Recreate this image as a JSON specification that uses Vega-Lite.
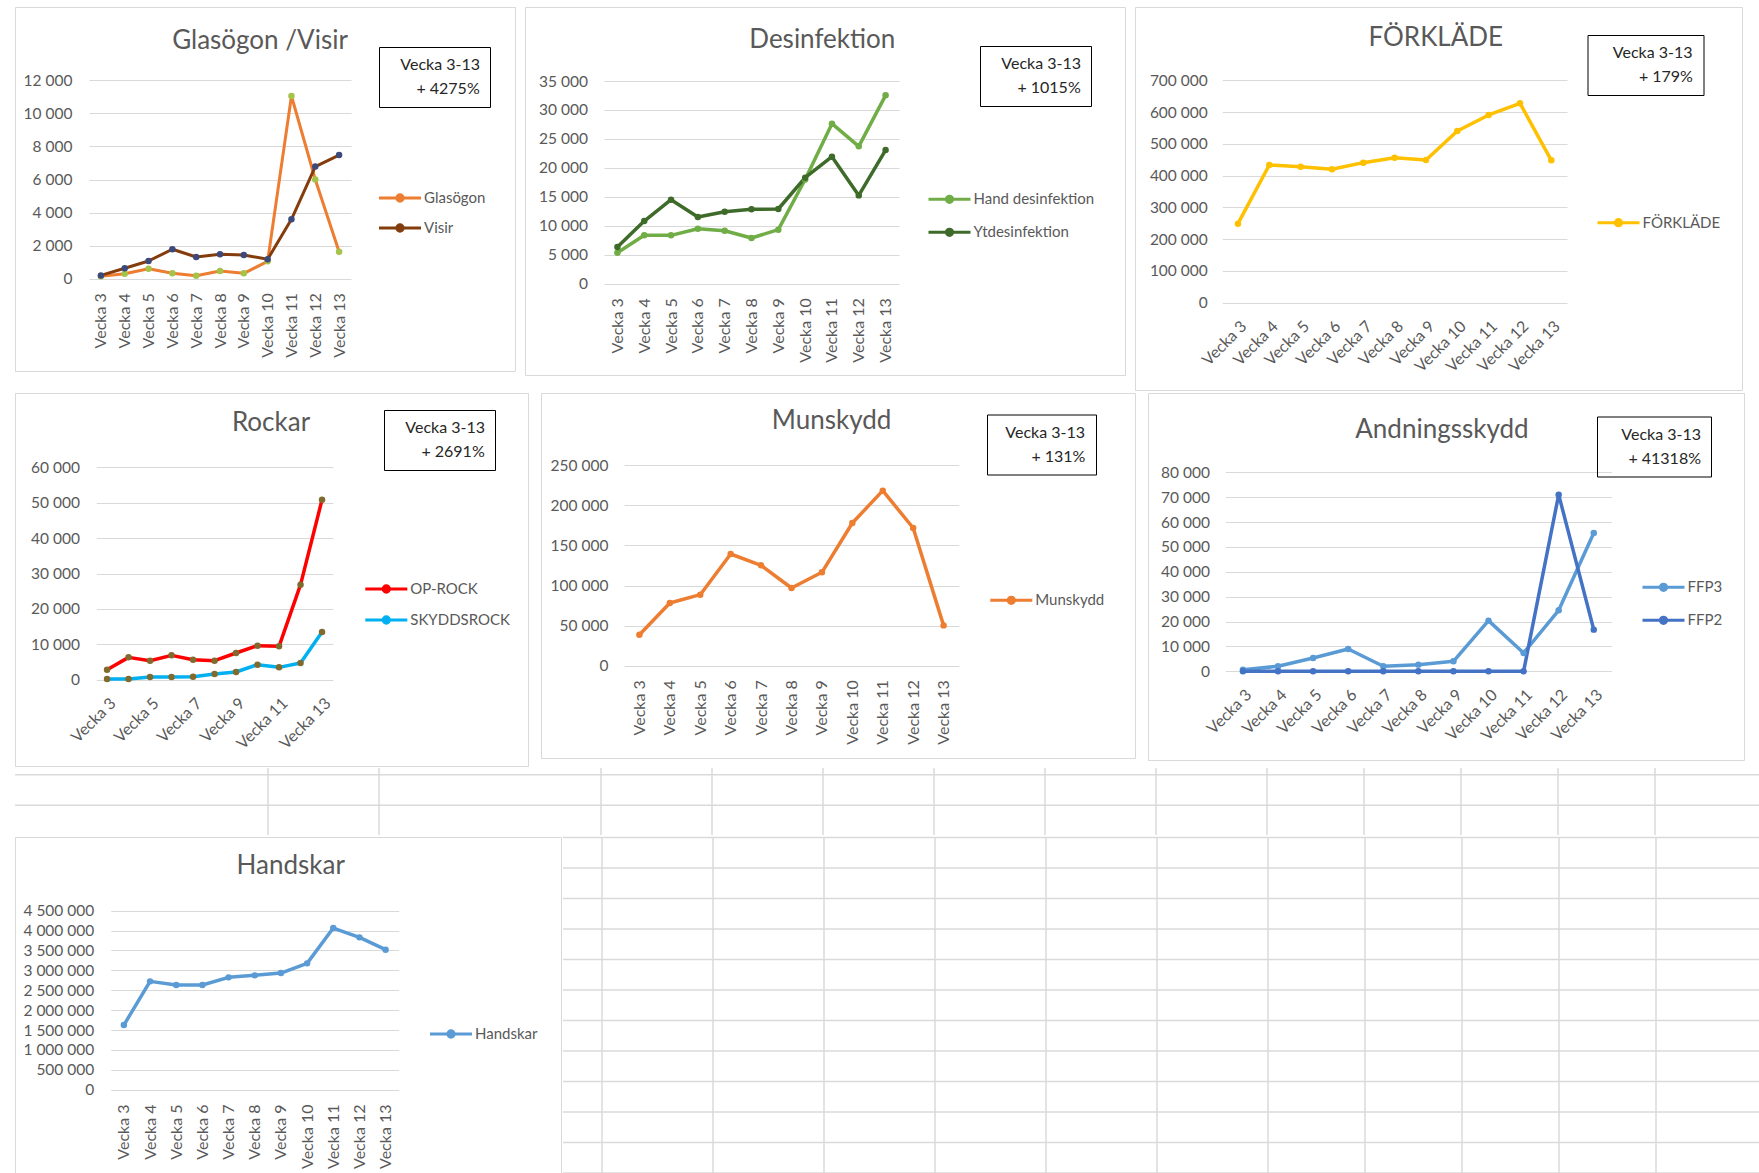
{
  "$schema": "https://vega.github.io/schema/vega-lite/v6.json",
  "background": "white",
  "padding": {"left": 14, "top": 6, "right": 0, "bottom": 0},
  "config": {
    "locale": {"number": {"decimal": ",", "thousands": " ", "grouping": [3], "currency": ["", ""]}},
    "font": "Lato",
    "view": {"stroke": "#d9d9d9", "strokeWidth": 1, "fill": "white"},
    "axis": {"domain": false, "ticks": false, "tickSize": 0, "labelColor": "#595959", "labelFont": "Lato", "gridColor": "#d9d9d9", "gridWidth": 1},
    "axisX": {"grid": false, "labelFontSize": 16, "labelOverlap": false},
    "axisY": {"grid": true, "labelFontSize": 15.5},
    "title": {"font": "Lato", "fontSize": 26, "fontWeight": "normal", "color": "#595959", "anchor": "middle", "frame": "group", "baseline": "alphabetic"},
    "legend": {"labelFont": "Lato", "titleFont": "Lato", "labelLimit": 400}
  },
  "spacing": 0,
  "resolve": {"scale": {"stroke": "independent", "fill": "independent", "shape": "independent"}},
  "vconcat": [
    {
      "spacing": 1,
      "resolve": {"scale": {"stroke": "independent", "fill": "independent", "shape": "independent"}},
      "vconcat": [
        {
          "spacing": 8,
          "resolve": {"scale": {"stroke": "independent", "fill": "independent", "shape": "independent"}},
          "hconcat": [
            {
              "width": 500, "height": 364,
              "title": {"text": "Glasögon /Visir", "offset": -46.5, "dx": -5},
              "data": {"values": [
                {"week": "Vecka 3", "series": "Glasögon", "value": 150},
                {"week": "Vecka 4", "series": "Glasögon", "value": 300},
                {"week": "Vecka 5", "series": "Glasögon", "value": 605},
                {"week": "Vecka 6", "series": "Glasögon", "value": 330},
                {"week": "Vecka 7", "series": "Glasögon", "value": 180},
                {"week": "Vecka 8", "series": "Glasögon", "value": 465},
                {"week": "Vecka 9", "series": "Glasögon", "value": 325},
                {"week": "Vecka 10", "series": "Glasögon", "value": 1050},
                {"week": "Vecka 11", "series": "Glasögon", "value": 11050},
                {"week": "Vecka 12", "series": "Glasögon", "value": 6000},
                {"week": "Vecka 13", "series": "Glasögon", "value": 1630},
                {"week": "Vecka 3", "series": "Visir", "value": 200},
                {"week": "Vecka 4", "series": "Visir", "value": 630},
                {"week": "Vecka 5", "series": "Visir", "value": 1070},
                {"week": "Vecka 6", "series": "Visir", "value": 1780},
                {"week": "Vecka 7", "series": "Visir", "value": 1310},
                {"week": "Vecka 8", "series": "Visir", "value": 1475},
                {"week": "Vecka 9", "series": "Visir", "value": 1435},
                {"week": "Vecka 10", "series": "Visir", "value": 1175},
                {"week": "Vecka 11", "series": "Visir", "value": 3590},
                {"week": "Vecka 12", "series": "Visir", "value": 6780},
                {"week": "Vecka 13", "series": "Visir", "value": 7480}
              ]},
              "encoding": {
                "x": {"field": "week", "type": "ordinal", "sort": null,
                  "scale": {"type": "point", "domain": ["Vecka 3","Vecka 4","Vecka 5","Vecka 6","Vecka 7","Vecka 8","Vecka 9","Vecka 10","Vecka 11","Vecka 12","Vecka 13"], "range": [74, 336], "padding": 0.5},
                  "axis": {"title": null, "offset": -92.3, "labelAngle": -90, "labelPadding": 14}},
                "y": {"field": "value", "type": "quantitative",
                  "scale": {"domain": [0, 12000], "range": [271.7, 73.3], "nice": false},
                  "axis": {"title": null, "offset": -74, "values": [0, 2000, 4000, 6000, 8000, 10000, 12000], "format": ",d", "labelPadding": 17}}
              },
              "layer": [
                {"mark": {"type": "line", "strokeWidth": 3, "strokeJoin": "round"},
                  "encoding": {"order": {"value": null},
                    "stroke": {"field": "series", "type": "nominal", "scale": {"domain": ["Glasögon", "Visir"], "range": ["#ED7D31", "#843C0C"]},
                      "legend": {"title": null, "orient": "none", "legendX": 362.5, "legendY": 179, "direction": "vertical", "symbolType": "M-1,0H3M0.7,0A0.3,0.3,0,1,1,1.3,0A0.3,0.3,0,1,1,0.7,0Z", "symbolSize": 441, "symbolStrokeWidth": 3, "labelOffset": 22.5, "rowPadding": 8, "labelFontSize": 15, "labelColor": "#595959", "padding": 0}}}},
                {"mark": {"type": "point", "filled": true, "size": 42, "opacity": 1},
                  "encoding": {
                    "fill": {"field": "series", "type": "nominal", "scale": {"domain": ["Glasögon", "Visir"], "range": ["#A5C249", "#3B4A7A"]},
                      "legend": {"title": null, "orient": "none", "legendX": 362.5, "legendY": 179, "direction": "vertical", "symbolType": "M-1,0H3M0.7,0A0.3,0.3,0,1,1,1.3,0A0.3,0.3,0,1,1,0.7,0Z", "symbolSize": 441, "symbolStrokeWidth": 3, "labelOffset": 22.5, "rowPadding": 8, "labelFontSize": 15, "labelColor": "#595959", "padding": 0}}}},
                {"data": {"values": [{"note": "+ 4275%"}]},
                  "mark": {"type": "point", "size": 0, "opacity": 0},
                  "encoding": {"x": null, "y": null, "shape": {"field": "note", "type": "nominal",
                    "legend": {"title": "Vecka 3-13", "orient": "none", "legendX": 364, "legendY": 40, "padding": 10, "strokeColor": "#000000", "titleFontSize": 16, "titleFontWeight": "normal", "titleColor": "#262626", "titleAnchor": "end", "titlePadding": 8, "labelFontSize": 16, "labelColor": "#262626", "symbolSize": 1, "symbolOpacity": 0, "symbolStrokeWidth": 0, "labelOffset": 11.4, "encode": {"legend": {"update": {"strokeWidth": {"value": 2}}}}}}}}
              ]
            },
            {
              "width": 600, "height": 368,
              "title": {"text": "Desinfektion", "offset": -46, "dx": -2.7},
              "data": {"values": [
                {"week": "Vecka 3", "series": "Hand desinfektion", "value": 5350},
                {"week": "Vecka 4", "series": "Hand desinfektion", "value": 8350},
                {"week": "Vecka 5", "series": "Hand desinfektion", "value": 8350},
                {"week": "Vecka 6", "series": "Hand desinfektion", "value": 9500},
                {"week": "Vecka 7", "series": "Hand desinfektion", "value": 9150},
                {"week": "Vecka 8", "series": "Hand desinfektion", "value": 7890},
                {"week": "Vecka 9", "series": "Hand desinfektion", "value": 9330},
                {"week": "Vecka 10", "series": "Hand desinfektion", "value": 18000},
                {"week": "Vecka 11", "series": "Hand desinfektion", "value": 27630},
                {"week": "Vecka 12", "series": "Hand desinfektion", "value": 23720},
                {"week": "Vecka 13", "series": "Hand desinfektion", "value": 32520},
                {"week": "Vecka 3", "series": "Ytdesinfektion", "value": 6330},
                {"week": "Vecka 4", "series": "Ytdesinfektion", "value": 10820},
                {"week": "Vecka 5", "series": "Ytdesinfektion", "value": 14510},
                {"week": "Vecka 6", "series": "Ytdesinfektion", "value": 11510},
                {"week": "Vecka 7", "series": "Ytdesinfektion", "value": 12430},
                {"week": "Vecka 8", "series": "Ytdesinfektion", "value": 12840},
                {"week": "Vecka 9", "series": "Ytdesinfektion", "value": 12900},
                {"week": "Vecka 10", "series": "Ytdesinfektion", "value": 18300},
                {"week": "Vecka 11", "series": "Ytdesinfektion", "value": 21930},
                {"week": "Vecka 12", "series": "Ytdesinfektion", "value": 15250},
                {"week": "Vecka 13", "series": "Ytdesinfektion", "value": 23080}
              ]},
              "encoding": {
                "x": {"field": "week", "type": "ordinal", "sort": null,
                  "scale": {"type": "point", "domain": ["Vecka 3","Vecka 4","Vecka 5","Vecka 6","Vecka 7","Vecka 8","Vecka 9","Vecka 10","Vecka 11","Vecka 12","Vecka 13"], "range": [79, 374], "padding": 0.5},
                  "axis": {"title": null, "offset": -91.3, "labelAngle": -90, "labelPadding": 14}},
                "y": {"field": "value", "type": "quantitative",
                  "scale": {"domain": [0, 35000], "range": [276.7, 74], "nice": false},
                  "axis": {"title": null, "offset": -79, "values": [0, 5000, 10000, 15000, 20000, 25000, 30000, 35000], "format": ",d", "labelPadding": 16.6}}
              },
              "layer": [
                {"mark": {"type": "line", "strokeWidth": 3.5, "strokeJoin": "round"},
                  "encoding": {"order": {"value": null},
                    "stroke": {"field": "series", "type": "nominal", "scale": {"domain": ["Hand desinfektion", "Ytdesinfektion"], "range": ["#70AD47", "#3F6B2A"]},
                      "legend": {"title": null, "orient": "none", "legendX": 402, "legendY": 180.3, "direction": "vertical", "symbolType": "M-1,0H3M0.7,0A0.3,0.3,0,1,1,1.3,0A0.3,0.3,0,1,1,0.7,0Z", "symbolSize": 441, "symbolStrokeWidth": 3, "labelOffset": 22.5, "rowPadding": 11, "labelFontSize": 15, "labelColor": "#595959", "padding": 0}}}},
                {"mark": {"type": "point", "filled": true, "size": 42, "opacity": 1},
                  "encoding": {
                    "fill": {"field": "series", "type": "nominal", "scale": {"domain": ["Hand desinfektion", "Ytdesinfektion"], "range": ["#70AD47", "#3F6B2A"]},
                      "legend": {"title": null, "orient": "none", "legendX": 402, "legendY": 180.3, "direction": "vertical", "symbolType": "M-1,0H3M0.7,0A0.3,0.3,0,1,1,1.3,0A0.3,0.3,0,1,1,0.7,0Z", "symbolSize": 441, "symbolStrokeWidth": 3, "labelOffset": 22.5, "rowPadding": 11, "labelFontSize": 15, "labelColor": "#595959", "padding": 0}}}},
                {"data": {"values": [{"note": "+ 1015%"}]},
                  "mark": {"type": "point", "size": 0, "opacity": 0},
                  "encoding": {"x": null, "y": null, "shape": {"field": "note", "type": "nominal",
                    "legend": {"title": "Vecka 3-13", "orient": "none", "legendX": 455, "legendY": 39, "padding": 10, "strokeColor": "#000000", "titleFontSize": 16, "titleFontWeight": "normal", "titleColor": "#262626", "titleAnchor": "end", "titlePadding": 8, "labelFontSize": 16, "labelColor": "#262626", "symbolSize": 1, "symbolOpacity": 0, "symbolStrokeWidth": 0, "labelOffset": 11.4, "encode": {"legend": {"update": {"strokeWidth": {"value": 2}}}}}}}}
              ]
            },
            {
              "width": 607, "height": 383,
              "title": {"text": "FÖRKLÄDE", "offset": -44, "dx": -2.7},
              "data": {"values": [
                {"week": "Vecka 3", "series": "FÖRKLÄDE", "value": 248700},
                {"week": "Vecka 4", "series": "FÖRKLÄDE", "value": 433400},
                {"week": "Vecka 5", "series": "FÖRKLÄDE", "value": 428200},
                {"week": "Vecka 6", "series": "FÖRKLÄDE", "value": 419800},
                {"week": "Vecka 7", "series": "FÖRKLÄDE", "value": 440800},
                {"week": "Vecka 8", "series": "FÖRKLÄDE", "value": 456500},
                {"week": "Vecka 9", "series": "FÖRKLÄDE", "value": 449200},
                {"week": "Vecka 10", "series": "FÖRKLÄDE", "value": 540500},
                {"week": "Vecka 11", "series": "FÖRKLÄDE", "value": 590900},
                {"week": "Vecka 12", "series": "FÖRKLÄDE", "value": 627600},
                {"week": "Vecka 13", "series": "FÖRKLÄDE", "value": 448100}
              ]},
              "encoding": {
                "x": {"field": "week", "type": "ordinal", "sort": null,
                  "scale": {"type": "point", "domain": ["Vecka 3","Vecka 4","Vecka 5","Vecka 6","Vecka 7","Vecka 8","Vecka 9","Vecka 10","Vecka 11","Vecka 12","Vecka 13"], "range": [87.3, 432], "padding": 0.5},
                  "axis": {"title": null, "offset": -87.3, "labelAngle": -45, "labelPadding": 15}},
                "y": {"field": "value", "type": "quantitative",
                  "scale": {"domain": [0, 700000], "range": [295.7, 73.3], "nice": false},
                  "axis": {"title": null, "offset": -87.3, "values": [0, 100000, 200000, 300000, 400000, 500000, 600000, 700000], "format": ",d", "labelPadding": 15}}
              },
              "layer": [
                {"mark": {"type": "line", "strokeWidth": 3.5, "strokeJoin": "round"},
                  "encoding": {"order": {"value": null},
                    "stroke": {"field": "series", "type": "nominal", "scale": {"domain": ["FÖRKLÄDE"], "range": ["#FFC000"]},
                      "legend": {"title": null, "orient": "none", "legendX": 461, "legendY": 203.7, "direction": "vertical", "symbolType": "M-1,0H3M0.7,0A0.3,0.3,0,1,1,1.3,0A0.3,0.3,0,1,1,0.7,0Z", "symbolSize": 441, "symbolStrokeWidth": 3, "labelOffset": 22.5, "labelFontSize": 15, "labelColor": "#595959", "padding": 0}}}},
                {"mark": {"type": "point", "filled": true, "size": 42, "opacity": 1},
                  "encoding": {
                    "fill": {"field": "series", "type": "nominal", "scale": {"domain": ["FÖRKLÄDE"], "range": ["#FFC000"]},
                      "legend": {"title": null, "orient": "none", "legendX": 461, "legendY": 203.7, "direction": "vertical", "symbolType": "M-1,0H3M0.7,0A0.3,0.3,0,1,1,1.3,0A0.3,0.3,0,1,1,0.7,0Z", "symbolSize": 441, "symbolStrokeWidth": 3, "labelOffset": 22.5, "labelFontSize": 15, "labelColor": "#595959", "padding": 0}}}},
                {"data": {"values": [{"note": "+ 179%"}]},
                  "mark": {"type": "point", "size": 0, "opacity": 0},
                  "encoding": {"x": null, "y": null, "shape": {"field": "note", "type": "nominal",
                    "legend": {"title": "Vecka 3-13", "orient": "none", "legendX": 452.5, "legendY": 28, "padding": 10, "strokeColor": "#000000", "titleFontSize": 16, "titleFontWeight": "normal", "titleColor": "#262626", "titleAnchor": "end", "titlePadding": 8, "labelFontSize": 16, "labelColor": "#262626", "symbolSize": 1, "symbolOpacity": 0, "symbolStrokeWidth": 0, "labelOffset": 25.4, "encode": {"legend": {"update": {"strokeWidth": {"value": 2}}}}}}}}
              ]
            }
          ]
        },
        {
          "spacing": 11,
          "resolve": {"scale": {"stroke": "independent", "fill": "independent", "shape": "independent"}},
          "hconcat": [
            {
              "width": 513, "height": 373,
              "title": {"text": "Rockar", "offset": -42.5, "dx": -0.5},
              "data": {"values": [
                {"week": "Vecka 3", "series": "OP-ROCK", "value": 2830},
                {"week": "Vecka 4", "series": "OP-ROCK", "value": 6310},
                {"week": "Vecka 5", "series": "OP-ROCK", "value": 5370},
                {"week": "Vecka 6", "series": "OP-ROCK", "value": 6880},
                {"week": "Vecka 7", "series": "OP-ROCK", "value": 5650},
                {"week": "Vecka 8", "series": "OP-ROCK", "value": 5370},
                {"week": "Vecka 9", "series": "OP-ROCK", "value": 7540},
                {"week": "Vecka 10", "series": "OP-ROCK", "value": 9610},
                {"week": "Vecka 11", "series": "OP-ROCK", "value": 9420},
                {"week": "Vecka 12", "series": "OP-ROCK", "value": 26840},
                {"week": "Vecka 13", "series": "OP-ROCK", "value": 50860},
                {"week": "Vecka 3", "series": "SKYDDSROCK", "value": 200},
                {"week": "Vecka 4", "series": "SKYDDSROCK", "value": 200},
                {"week": "Vecka 5", "series": "SKYDDSROCK", "value": 750},
                {"week": "Vecka 6", "series": "SKYDDSROCK", "value": 750},
                {"week": "Vecka 7", "series": "SKYDDSROCK", "value": 850},
                {"week": "Vecka 8", "series": "SKYDDSROCK", "value": 1600},
                {"week": "Vecka 9", "series": "SKYDDSROCK", "value": 2170},
                {"week": "Vecka 10", "series": "SKYDDSROCK", "value": 4240},
                {"week": "Vecka 11", "series": "SKYDDSROCK", "value": 3490},
                {"week": "Vecka 12", "series": "SKYDDSROCK", "value": 4710},
                {"week": "Vecka 13", "series": "SKYDDSROCK", "value": 13470}
              ]},
              "encoding": {
                "x": {"field": "week", "type": "ordinal", "sort": null,
                  "scale": {"type": "point", "domain": ["Vecka 3","Vecka 4","Vecka 5","Vecka 6","Vecka 7","Vecka 8","Vecka 9","Vecka 10","Vecka 11","Vecka 12","Vecka 13"], "range": [81.3, 317.8], "padding": 0.5},
                  "axis": {"title": null, "offset": -86.3, "labelAngle": -45, "labelPadding": 15, "values": ["Vecka 3","Vecka 5","Vecka 7","Vecka 9","Vecka 11","Vecka 13"]}},
                "y": {"field": "value", "type": "quantitative",
                  "scale": {"domain": [0, 60000], "range": [286.7, 74.3], "nice": false},
                  "axis": {"title": null, "offset": -81.3, "values": [0, 10000, 20000, 30000, 40000, 50000, 60000], "format": ",d", "labelPadding": 16.8}}
              },
              "layer": [
                {"mark": {"type": "line", "strokeWidth": 3.5, "strokeJoin": "round"},
                  "encoding": {"order": {"value": null},
                    "stroke": {"field": "series", "type": "nominal", "scale": {"domain": ["OP-ROCK", "SKYDDSROCK"], "range": ["#FF0000", "#00B0F0"]},
                      "legend": {"title": null, "orient": "none", "legendX": 348.8, "legendY": 184, "direction": "vertical", "symbolType": "M-1,0H3M0.7,0A0.3,0.3,0,1,1,1.3,0A0.3,0.3,0,1,1,0.7,0Z", "symbolSize": 441, "symbolStrokeWidth": 3, "labelOffset": 22.5, "rowPadding": 9, "labelFontSize": 15, "labelColor": "#595959", "padding": 0}}}},
                {"mark": {"type": "point", "filled": true, "size": 42, "opacity": 1},
                  "encoding": {
                    "fill": {"field": "series", "type": "nominal", "scale": {"domain": ["OP-ROCK", "SKYDDSROCK"], "range": ["#806A2E", "#806A2E"]},
                      "legend": {"title": null, "orient": "none", "legendX": 348.8, "legendY": 184, "direction": "vertical", "symbolType": "M-1,0H3M0.7,0A0.3,0.3,0,1,1,1.3,0A0.3,0.3,0,1,1,0.7,0Z", "symbolSize": 441, "symbolStrokeWidth": 3, "labelOffset": 22.5, "rowPadding": 9, "labelFontSize": 15, "labelColor": "#595959", "padding": 0}}}},
                {"data": {"values": [{"note": "+ 2691%"}]},
                  "mark": {"type": "point", "size": 0, "opacity": 0},
                  "encoding": {"x": null, "y": null, "shape": {"field": "note", "type": "nominal",
                    "legend": {"title": "Vecka 3-13", "orient": "none", "legendX": 369, "legendY": 17, "padding": 10, "strokeColor": "#000000", "titleFontSize": 16, "titleFontWeight": "normal", "titleColor": "#262626", "titleAnchor": "end", "titlePadding": 8, "labelFontSize": 16, "labelColor": "#262626", "symbolSize": 1, "symbolOpacity": 0, "symbolStrokeWidth": 0, "labelOffset": 11.4, "encode": {"legend": {"update": {"strokeWidth": {"value": 2}}}}}}}}
              ]
            },
            {
              "width": 594, "height": 365,
              "title": {"text": "Munskydd", "offset": -40.5, "dx": -6.4},
              "data": {"values": [
                {"week": "Vecka 3", "series": "Munskydd", "value": 38690},
                {"week": "Vecka 4", "series": "Munskydd", "value": 78200},
                {"week": "Vecka 5", "series": "Munskydd", "value": 88600},
                {"week": "Vecka 6", "series": "Munskydd", "value": 139350},
                {"week": "Vecka 7", "series": "Munskydd", "value": 125200},
                {"week": "Vecka 8", "series": "Munskydd", "value": 96900},
                {"week": "Vecka 9", "series": "Munskydd", "value": 116500},
                {"week": "Vecka 10", "series": "Munskydd", "value": 178000},
                {"week": "Vecka 11", "series": "Munskydd", "value": 218400},
                {"week": "Vecka 12", "series": "Munskydd", "value": 171800},
                {"week": "Vecka 13", "series": "Munskydd", "value": 50300}
              ]},
              "encoding": {
                "x": {"field": "week", "type": "ordinal", "sort": null,
                  "scale": {"type": "point", "domain": ["Vecka 3","Vecka 4","Vecka 5","Vecka 6","Vecka 7","Vecka 8","Vecka 9","Vecka 10","Vecka 11","Vecka 12","Vecka 13"], "range": [83.2, 417.8], "padding": 0.5},
                  "axis": {"title": null, "offset": -92.3, "labelAngle": -90, "labelPadding": 14}},
                "y": {"field": "value", "type": "quantitative",
                  "scale": {"domain": [0, 250000], "range": [272.7, 72.3], "nice": false},
                  "axis": {"title": null, "offset": -83.2, "values": [0, 50000, 100000, 150000, 200000, 250000], "format": ",d", "labelPadding": 16.3}}
              },
              "layer": [
                {"mark": {"type": "line", "strokeWidth": 3.5, "strokeJoin": "round"},
                  "encoding": {"order": {"value": null},
                    "stroke": {"field": "series", "type": "nominal", "scale": {"domain": ["Munskydd"], "range": ["#ED7D31"]},
                      "legend": {"title": null, "orient": "none", "legendX": 447.8, "legendY": 195.3, "direction": "vertical", "symbolType": "M-1,0H3M0.7,0A0.3,0.3,0,1,1,1.3,0A0.3,0.3,0,1,1,0.7,0Z", "symbolSize": 441, "symbolStrokeWidth": 3, "labelOffset": 22.5, "labelFontSize": 15, "labelColor": "#595959", "padding": 0}}}},
                {"mark": {"type": "point", "filled": true, "size": 42, "opacity": 1},
                  "encoding": {
                    "fill": {"field": "series", "type": "nominal", "scale": {"domain": ["Munskydd"], "range": ["#ED7D31"]},
                      "legend": {"title": null, "orient": "none", "legendX": 447.8, "legendY": 195.3, "direction": "vertical", "symbolType": "M-1,0H3M0.7,0A0.3,0.3,0,1,1,1.3,0A0.3,0.3,0,1,1,0.7,0Z", "symbolSize": 441, "symbolStrokeWidth": 3, "labelOffset": 22.5, "labelFontSize": 15, "labelColor": "#595959", "padding": 0}}}},
                {"data": {"values": [{"note": "+ 131%"}]},
                  "mark": {"type": "point", "size": 0, "opacity": 0},
                  "encoding": {"x": null, "y": null, "shape": {"field": "note", "type": "nominal",
                    "legend": {"title": "Vecka 3-13", "orient": "none", "legendX": 446, "legendY": 21.5, "padding": 10, "strokeColor": "#000000", "titleFontSize": 16, "titleFontWeight": "normal", "titleColor": "#262626", "titleAnchor": "end", "titlePadding": 8, "labelFontSize": 16, "labelColor": "#262626", "symbolSize": 1, "symbolOpacity": 0, "symbolStrokeWidth": 0, "labelOffset": 18.4, "encode": {"legend": {"update": {"strokeWidth": {"value": 2}}}}}}}}
              ]
            },
            {
              "width": 596, "height": 367,
              "title": {"text": "Andningsskydd", "offset": -50, "dx": -4.1},
              "data": {"values": [
                {"week": "Vecka 3", "series": "FFP3", "value": 670},
                {"week": "Vecka 4", "series": "FFP3", "value": 2010},
                {"week": "Vecka 5", "series": "FFP3", "value": 5360},
                {"week": "Vecka 6", "series": "FFP3", "value": 8980},
                {"week": "Vecka 7", "series": "FFP3", "value": 2010},
                {"week": "Vecka 8", "series": "FFP3", "value": 2680},
                {"week": "Vecka 9", "series": "FFP3", "value": 4020},
                {"week": "Vecka 10", "series": "FFP3", "value": 20370},
                {"week": "Vecka 11", "series": "FFP3", "value": 7370},
                {"week": "Vecka 12", "series": "FFP3", "value": 24520},
                {"week": "Vecka 13", "series": "FFP3", "value": 55610},
                {"week": "Vecka 3", "series": "FFP2", "value": 0},
                {"week": "Vecka 4", "series": "FFP2", "value": 0},
                {"week": "Vecka 5", "series": "FFP2", "value": 0},
                {"week": "Vecka 6", "series": "FFP2", "value": 0},
                {"week": "Vecka 7", "series": "FFP2", "value": 0},
                {"week": "Vecka 8", "series": "FFP2", "value": 0},
                {"week": "Vecka 9", "series": "FFP2", "value": 0},
                {"week": "Vecka 10", "series": "FFP2", "value": 0},
                {"week": "Vecka 11", "series": "FFP2", "value": 0},
                {"week": "Vecka 12", "series": "FFP2", "value": 71020},
                {"week": "Vecka 13", "series": "FFP2", "value": 16750}
              ]},
              "encoding": {
                "x": {"field": "week", "type": "ordinal", "sort": null,
                  "scale": {"type": "point", "domain": ["Vecka 3","Vecka 4","Vecka 5","Vecka 6","Vecka 7","Vecka 8","Vecka 9","Vecka 10","Vecka 11","Vecka 12","Vecka 13"], "range": [77.4, 463.3], "padding": 0.5},
                  "axis": {"title": null, "offset": -88.7, "labelAngle": -45, "labelPadding": 15}},
                "y": {"field": "value", "type": "quantitative",
                  "scale": {"domain": [0, 80000], "range": [278.3, 79.3], "nice": false},
                  "axis": {"title": null, "offset": -77.4, "values": [0, 10000, 20000, 30000, 40000, 50000, 60000, 70000, 80000], "format": ",d", "labelPadding": 16}}
              },
              "layer": [
                {"mark": {"type": "line", "strokeWidth": 3.5, "strokeJoin": "round"},
                  "encoding": {"order": {"value": null},
                    "stroke": {"field": "series", "type": "nominal", "scale": {"domain": ["FFP3", "FFP2"], "range": ["#5B9BD5", "#4472C4"]},
                      "legend": {"title": null, "orient": "none", "legendX": 493, "legendY": 182.3, "direction": "vertical", "symbolType": "M-1,0H3M0.7,0A0.3,0.3,0,1,1,1.3,0A0.3,0.3,0,1,1,0.7,0Z", "symbolSize": 441, "symbolStrokeWidth": 3, "labelOffset": 22.5, "rowPadding": 11, "labelFontSize": 15, "labelColor": "#595959", "padding": 0}}}},
                {"mark": {"type": "point", "filled": true, "size": 42, "opacity": 1},
                  "encoding": {
                    "fill": {"field": "series", "type": "nominal", "scale": {"domain": ["FFP3", "FFP2"], "range": ["#5B9BD5", "#4472C4"]},
                      "legend": {"title": null, "orient": "none", "legendX": 493, "legendY": 182.3, "direction": "vertical", "symbolType": "M-1,0H3M0.7,0A0.3,0.3,0,1,1,1.3,0A0.3,0.3,0,1,1,0.7,0Z", "symbolSize": 441, "symbolStrokeWidth": 3, "labelOffset": 22.5, "rowPadding": 11, "labelFontSize": 15, "labelColor": "#595959", "padding": 0}}}},
                {"data": {"values": [{"note": "+ 41318%"}]},
                  "mark": {"type": "point", "size": 0, "opacity": 0},
                  "encoding": {"x": null, "y": null, "shape": {"field": "note", "type": "nominal",
                    "legend": {"title": "Vecka 3-13", "orient": "none", "legendX": 449, "legendY": 23.5, "padding": 10, "strokeColor": "#000000", "titleFontSize": 16, "titleFontWeight": "normal", "titleColor": "#262626", "titleAnchor": "end", "titlePadding": 8, "labelFontSize": 16, "labelColor": "#262626", "symbolSize": 1, "symbolOpacity": 0, "symbolStrokeWidth": 0, "labelOffset": 5.4, "encode": {"legend": {"update": {"strokeWidth": {"value": 2}}}}}}}}
              ]
            }
          ]
        }
      ]
    },
    {
      "width": 1745, "height": 67,
      "view": {"stroke": null, "fill": "white"},
      "data": {"values": [
        {"line": "row", "i": 0}, {"line": "row", "i": 1},
        {"line": "colL", "i": 0}, {"line": "colL", "i": 1},
        {"line": "colA", "i": 0}, {"line": "colA", "i": 1}, {"line": "colA", "i": 2}, {"line": "colA", "i": 3},
        {"line": "colA", "i": 4}, {"line": "colA", "i": 5}, {"line": "colA", "i": 6},
        {"line": "colB", "i": 1}, {"line": "colB", "i": 2}, {"line": "colB", "i": 3}, {"line": "colB", "i": 4}
      ]},
      "resolve": {"scale": {"x": "independent"}},
      "layer": [
        {"transform": [{"filter": "datum.line == 'row'"}],
          "mark": {"type": "rule", "color": "#dadada", "strokeWidth": 1.5},
          "encoding": {"y": {"field": "i", "type": "quantitative", "scale": {"domain": [0, 1], "range": [6.7, 37.3], "nice": false, "zero": false}, "axis": null}}},
        {"transform": [{"filter": "datum.line == 'colL'"}],
          "mark": {"type": "rule", "color": "#dadada", "strokeWidth": 1.5},
          "encoding": {"x": {"field": "i", "type": "quantitative", "scale": {"domain": [0, 1], "range": [253, 364], "nice": false, "zero": false}, "axis": null}}},
        {"transform": [{"filter": "datum.line == 'colA'"}],
          "mark": {"type": "rule", "color": "#dadada", "strokeWidth": 1.5},
          "encoding": {"x": {"field": "i", "type": "quantitative", "scale": {"domain": [0, 6], "range": [586, 1252], "nice": false, "zero": false}, "axis": null}}},
        {"transform": [{"filter": "datum.line == 'colB'"}],
          "mark": {"type": "rule", "color": "#dadada", "strokeWidth": 1.5},
          "encoding": {"x": {"field": "i", "type": "quantitative", "scale": {"domain": [1, 4], "range": [1349, 1640], "nice": false, "zero": false}, "axis": null}}}
      ]
    },
    {
      "spacing": 0,
      "resolve": {"scale": {"stroke": "independent", "fill": "independent", "shape": "independent"}},
      "hconcat": [
        {
          "width": 546, "height": 345,
          "title": {"text": "Handskar", "offset": -41.5, "dx": 2.7},
          "data": {"values": [
            {"week": "Vecka 3", "series": "Handskar", "value": 1625700},
            {"week": "Vecka 4", "series": "Handskar", "value": 2723500},
            {"week": "Vecka 5", "series": "Handskar", "value": 2631300},
            {"week": "Vecka 6", "series": "Handskar", "value": 2631300},
            {"week": "Vecka 7", "series": "Handskar", "value": 2824000},
            {"week": "Vecka 8", "series": "Handskar", "value": 2874300},
            {"week": "Vecka 9", "series": "Handskar", "value": 2932900},
            {"week": "Vecka 10", "series": "Handskar", "value": 3176000},
            {"week": "Vecka 11", "series": "Handskar", "value": 4064200},
            {"week": "Vecka 12", "series": "Handskar", "value": 3829600},
            {"week": "Vecka 13", "series": "Handskar", "value": 3519600}
          ]},
          "encoding": {
            "x": {"field": "week", "type": "ordinal", "sort": null,
              "scale": {"type": "point", "domain": ["Vecka 3","Vecka 4","Vecka 5","Vecka 6","Vecka 7","Vecka 8","Vecka 9","Vecka 10","Vecka 11","Vecka 12","Vecka 13"], "range": [95.8, 383.7], "padding": 0.5},
              "axis": {"title": null, "offset": -92.3, "labelAngle": -90, "labelPadding": 14.3}},
            "y": {"field": "value", "type": "quantitative",
              "scale": {"domain": [0, 4500000], "range": [252.7, 73.7], "nice": false},
              "axis": {"title": null, "offset": -95.8, "values": [0, 500000, 1000000, 1500000, 2000000, 2500000, 3000000, 3500000, 4000000, 4500000], "format": ",d", "labelPadding": 17}}
          },
          "layer": [
            {"mark": {"type": "line", "strokeWidth": 3.5, "strokeJoin": "round"},
              "encoding": {"order": {"value": null},
                "stroke": {"field": "series", "type": "nominal", "scale": {"domain": ["Handskar"], "range": ["#5B9BD5"]},
                  "legend": {"title": null, "orient": "none", "legendX": 413.5, "legendY": 185, "direction": "vertical", "symbolType": "M-1,0H3M0.7,0A0.3,0.3,0,1,1,1.3,0A0.3,0.3,0,1,1,0.7,0Z", "symbolSize": 441, "symbolStrokeWidth": 3, "labelOffset": 22.5, "labelFontSize": 15, "labelColor": "#595959", "padding": 0}}}},
            {"mark": {"type": "point", "filled": true, "size": 42, "opacity": 1},
              "encoding": {
                "fill": {"field": "series", "type": "nominal", "scale": {"domain": ["Handskar"], "range": ["#5B9BD5"]},
                  "legend": {"title": null, "orient": "none", "legendX": 413.5, "legendY": 185, "direction": "vertical", "symbolType": "M-1,0H3M0.7,0A0.3,0.3,0,1,1,1.3,0A0.3,0.3,0,1,1,0.7,0Z", "symbolSize": 441, "symbolStrokeWidth": 3, "labelOffset": 22.5, "labelFontSize": 15, "labelColor": "#595959", "padding": 0}}}}
          ]
        },
        {
          "width": 1198, "height": 345,
          "view": {"stroke": null, "fill": "white"},
          "data": {"values": [
            {"line": "colA", "i": 0}, {"line": "colA", "i": 1}, {"line": "colA", "i": 2}, {"line": "colA", "i": 3},
            {"line": "colA", "i": 4}, {"line": "colA", "i": 5}, {"line": "colA", "i": 6},
            {"line": "colB", "i": 1}, {"line": "colB", "i": 2}, {"line": "colB", "i": 3}, {"line": "colB", "i": 4},
            {"line": "row", "i": 0}, {"line": "row", "i": 1}, {"line": "row", "i": 2}, {"line": "row", "i": 3},
            {"line": "row", "i": 4}, {"line": "row", "i": 5}, {"line": "row", "i": 6}, {"line": "row", "i": 7},
            {"line": "row", "i": 8}, {"line": "row", "i": 9}, {"line": "row", "i": 10}, {"line": "row", "i": 11}
          ]},
          "resolve": {"scale": {"x": "independent"}},
          "layer": [
            {"transform": [{"filter": "datum.line == 'row'"}],
              "mark": {"type": "rule", "color": "#dadada", "strokeWidth": 1.5},
              "encoding": {"y": {"field": "i", "type": "quantitative", "scale": {"domain": [0, 11], "range": [0.5, 336], "nice": false, "zero": false}, "axis": null}}},
            {"transform": [{"filter": "datum.line == 'colA'"}],
              "mark": {"type": "rule", "color": "#dadada", "strokeWidth": 1.5},
              "encoding": {"x": {"field": "i", "type": "quantitative", "scale": {"domain": [0, 6], "range": [39, 705], "nice": false, "zero": false}, "axis": null}}},
            {"transform": [{"filter": "datum.line == 'colB'"}],
              "mark": {"type": "rule", "color": "#dadada", "strokeWidth": 1.5},
              "encoding": {"x": {"field": "i", "type": "quantitative", "scale": {"domain": [1, 4], "range": [802, 1093], "nice": false, "zero": false}, "axis": null}}}
          ]
        }
      ]
    }
  ]
}
